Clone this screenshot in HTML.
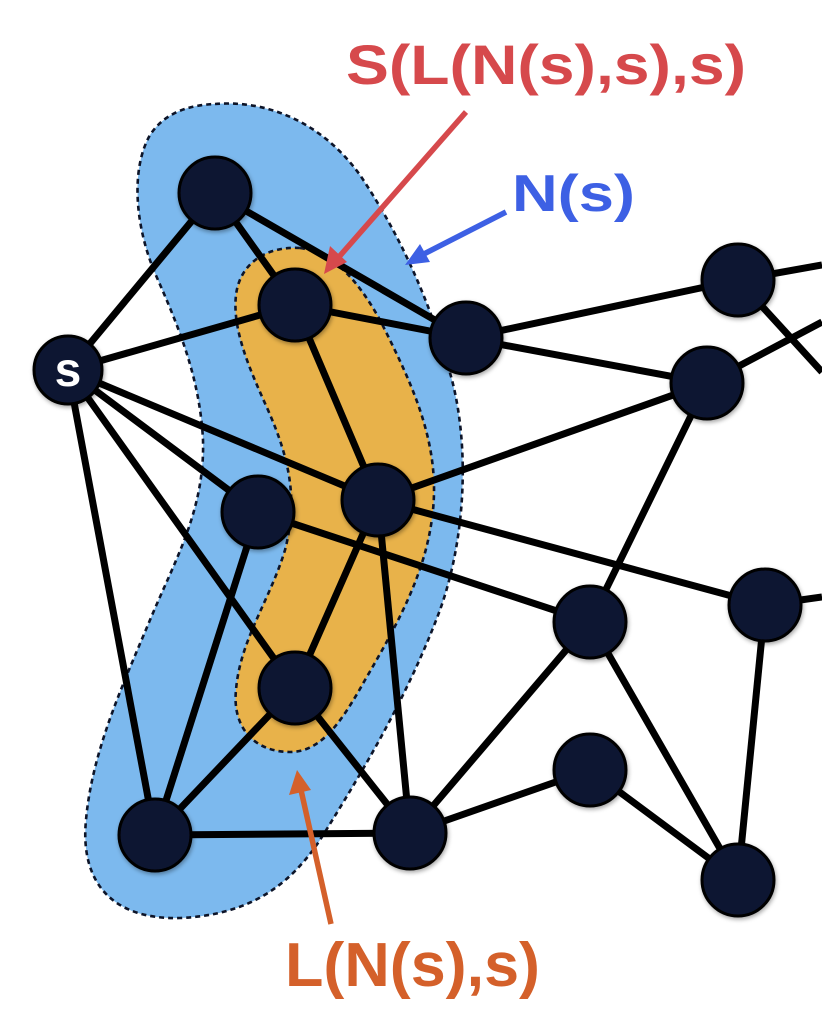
<!DOCTYPE html>
<html><head><meta charset="utf-8"><style>
html,body{margin:0;padding:0;background:#fff;}
svg{display:block;}
text{font-family:"Liberation Sans",sans-serif;font-weight:bold;}
</style></head><body>
<svg id="chart" width="822" height="1014" viewBox="0 0 822 1014" xmlns="http://www.w3.org/2000/svg">
<defs>
<filter id="sh" x="-30%" y="-30%" width="160%" height="160%"><feDropShadow dx="1" dy="2" stdDeviation="2" flood-color="#000" flood-opacity="0.35"/></filter>
</defs>
<rect width="822" height="1014" fill="#ffffff"/>
<path d="M215,104 C265,100 320,120 360,175 C400,235 430,300 452,380 C470,450 465,540 440,610 C410,690 370,760 320,840 C290,885 250,915 180,918 C110,920 80,880 86,820 C92,750 125,680 150,620 C175,560 205,510 203,440 C200,380 180,330 158,280 C135,230 130,170 150,135 C165,112 190,105 215,104 Z" fill="#7cb9ee" stroke="#0d1428" stroke-width="2.6" stroke-dasharray="5,4"/>
<path d="M300,248 C330,252 355,275 380,320 C410,380 440,440 433,510 C427,570 400,620 365,680 C340,725 320,752 290,752 C255,752 232,728 236,690 C240,640 270,600 285,550 C298,500 290,460 268,410 C250,370 232,330 236,295 C240,262 268,246 300,248 Z" fill="#e8b24a" stroke="#0d1428" stroke-width="2.6" stroke-dasharray="5,4"/>
<g id="edges"></g>
<g id="nodes"></g>
<g>
<line x1="466" y1="112" x2="338" y2="258" stroke="#d6494c" stroke-width="5.5"/>
<polygon points="324,274 330,246 347,262" fill="#d6494c"/>
<line x1="506" y1="212" x2="420" y2="256" stroke="#3d60e4" stroke-width="5.5"/>
<polygon points="405,265 420,244 430,262" fill="#3d60e4"/>
<line x1="331" y1="924" x2="301" y2="790" stroke="#d4602a" stroke-width="5.5"/>
<polygon points="297,770 289,795 311,790" fill="#d4602a"/>
</g>
<text x="346" y="84" font-size="56" fill="#d6494c" textLength="400" lengthAdjust="spacingAndGlyphs">S(L(N(s),s),s)</text>
<text x="512" y="211" font-size="52" fill="#3d60e4" textLength="123" lengthAdjust="spacingAndGlyphs">N(s)</text>
<text x="285" y="986" font-size="62" fill="#d4602a" textLength="255" lengthAdjust="spacingAndGlyphs">L(N(s),s)</text>
</svg>
<script>
const nodeIds = ["s","A","B","C","D","E","F","G","H","I","J","K","L","M","N"];
const nodeX = [68,215,295,466,738,707,378,258,590,765,295,590,155,410,738];
const nodeY = [370,193,305,338,280,383,500,512,622,605,688,770,835,833,880];
const edgeFrom = ["s","s","s","s","s","s","A","A","B","B","C","C","F","F","F","F","G","G","J","J","L","E","H","H","M","K","I","D","D","E","I"];
const edgeTo   = ["A","B","F","G","J","L","B","C","C","F","D","E","E","I","J","M","L","H","L","M","M","H","M","N","K","N","N","X1","X2","X3","X4"];
const extraIds = ["X1","X2","X3","X4"];
const extraX = [822,822,822,822];
const extraY = [265,372,322,597];
const NS="http://www.w3.org/2000/svg";
function pos(id){
  let i=nodeIds.indexOf(id);
  if(i>=0) return [nodeX[i],nodeY[i]];
  i=extraIds.indexOf(id);
  return [extraX[i],extraY[i]];
}
const eg=document.getElementById('edges');
for(let k=0;k<edgeFrom.length;k++){
  const a=pos(edgeFrom[k]), b=pos(edgeTo[k]);
  const l=document.createElementNS(NS,'line');
  l.setAttribute('x1',a[0]);l.setAttribute('y1',a[1]);l.setAttribute('x2',b[0]);l.setAttribute('y2',b[1]);
  l.setAttribute('stroke','#000');l.setAttribute('stroke-width','7');
  
  
  eg.appendChild(l);
}
const ng=document.getElementById('nodes');
for(let k=0;k<nodeIds.length;k++){
  const c=document.createElementNS(NS,'circle');
  c.setAttribute('cx',nodeX[k]);c.setAttribute('cy',nodeY[k]);
  c.setAttribute('r',nodeIds[k]==="s"?34:36);
  c.setAttribute('fill','#0b1430');c.setAttribute('stroke','#000');c.setAttribute('stroke-width','3');
  c.setAttribute('filter','url(#sh)');
  
  
  ng.appendChild(c);
}
const t=document.createElementNS(NS,'text');
t.setAttribute('x',nodeX[0]);t.setAttribute('y',nodeY[0]+16);
t.setAttribute('text-anchor','middle');t.setAttribute('font-size','48');t.setAttribute('fill','#fff');
t.textContent='s';


ng.appendChild(t);
</script>
</body></html>
